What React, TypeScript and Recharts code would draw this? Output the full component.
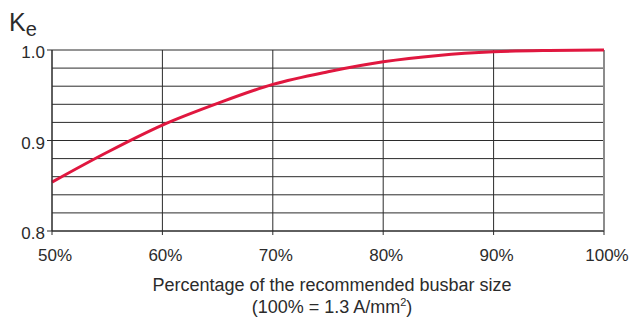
import { LineChart, Line, XAxis, YAxis, CartesianGrid, ReferenceLine } from "recharts";

// busbar size (% of recommended) vs derating factor Ke
const sizePct = [50, 55, 60, 65, 70, 75, 80, 85, 90, 95, 100];
const keValues = [0.854, 0.887, 0.917, 0.941, 0.962, 0.976, 0.987, 0.994, 0.998, 0.9995, 1.0];
const xTicks = [50, 60, 70, 80, 90, 100];
const yGridTicks = [0.8, 0.82, 0.84, 0.86, 0.88, 0.9, 0.92, 0.94, 0.96, 0.98, 1.0];
const yLabelTicks = [0.8, 0.9, 1.0];

const data = sizePct.map((s, i) => ({ size: s, ke: keValues[i] }));

const FONT = '"Liberation Sans Narrow", "Liberation Sans", Arial, sans-serif';
const INK = "#2b2b2b";

function YTick(props: any) {
  const { x, y, payload } = props;
  const v = Math.round(payload.value * 100) / 100;
  if (!yLabelTicks.some((t) => Math.abs(t - v) < 1e-6)) return null;
  return (
    <g>
      <line x1={x + 2} x2={x + 7} y1={y} y2={y} stroke={INK} strokeWidth={1} />
      <text x={x} y={y} dy={8} textAnchor="end" fill={INK} fontSize={17} fontFamily={FONT}>
        {v.toFixed(1)}
      </text>
    </g>
  );
}

export default function App() {
  return (
    <div style={{ position: "absolute", left: 0, top: 0, width: 636, height: 318, background: "#fff", fontFamily: FONT, color: INK }}>
      <div style={{ position: "absolute", left: 9, top: 8, fontSize: 25, lineHeight: "28px" }}>
        K<span style={{ fontSize: 20, position: "relative", top: 5 }}>e</span>
      </div>
      <LineChart width={636} height={318} data={data} margin={{ top: 50, right: 32, bottom: 57, left: 0 }}>
        <CartesianGrid stroke={INK} strokeWidth={1} />
        <XAxis
          dataKey="size"
          type="number"
          domain={[50, 100]}
          ticks={xTicks}
          tickFormatter={(v: number) => `${v}%`}
          tick={{ fill: INK, fontSize: 17, fontFamily: FONT, dx: 3 }}
          tickSize={4}
          tickMargin={14}
          tickLine={{ stroke: INK }}
          axisLine={{ stroke: INK }}
          height={30}
        />
        <YAxis
          type="number"
          domain={[0.8, 1.0]}
          ticks={yGridTicks}
          interval={0}
          width={52}
          tickSize={5}
          tickMargin={2}
          tickLine={false}
          axisLine={{ stroke: INK }}
          tick={<YTick />}
        />
        <ReferenceLine x={100} stroke="#8c8c8c" strokeWidth={2} />
        <Line type="monotone" dataKey="ke" stroke="#e0173f" strokeWidth={3} dot={false} isAnimationActive={false} />
      </LineChart>
      <div style={{ position: "absolute", left: 0, width: 664, top: 274, textAlign: "center", fontSize: 18, lineHeight: "22px" }}>
        Percentage of the recommended busbar size
        <br />
        (100% = 1.3 A/mm<sup style={{ fontSize: 11, lineHeight: 0 }}>2</sup>)
      </div>
    </div>
  );
}
